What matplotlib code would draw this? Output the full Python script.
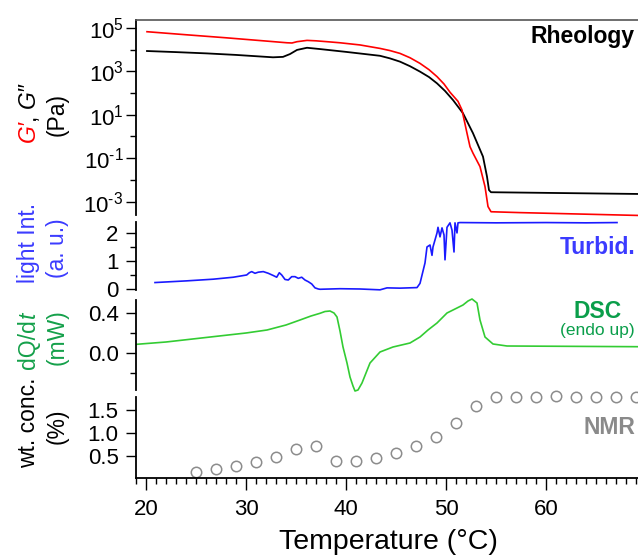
import matplotlib
matplotlib.use("Agg")
import matplotlib.pyplot as plt
import numpy as np
from matplotlib.ticker import FixedLocator, FixedFormatter, NullLocator, MultipleLocator
from matplotlib.transforms import IdentityTransform

plt.rcParams['font.family'] = ['Liberation Sans', 'DejaVu Sans']
plt.rcParams['mathtext.fontset'] = 'custom'
plt.rcParams['mathtext.rm'] = 'Liberation Sans'
plt.rcParams['mathtext.it'] = 'Liberation Sans:italic'

# ---------------- data ----------------
# Rheology: log10 of G' and G'' (Pa) vs temperature
g1_T = [20.1, 24.0, 28.0, 32.0, 34.1, 34.6, 35.1, 36.1, 37.0, 38.1, 39.4, 41.4, 43.4, 44.4,
        45.4, 46.4, 47.4, 48.3, 49.1, 49.8, 50.4, 51.2, 51.6, 52.1, 52.4, 52.7, 53.4, 53.9,
        54.2, 54.5, 57.4, 69.2]
g1_log = [4.83, 4.69, 4.55, 4.40, 4.32, 4.31, 4.37, 4.43, 4.41, 4.37, 4.32, 4.22, 4.06, 3.96,
          3.83, 3.63, 3.37, 3.08, 2.76, 2.42, 2.04, 1.62, 1.22, 0.15, -0.47, -0.77, -1.39, -2.31,
          -3.23, -3.47, -3.51, -3.64]

g2_T = [20.1, 23.0, 26.1, 29.0, 32.7, 33.7, 34.4, 35.1, 36.1, 37.4, 40.0, 43.4, 44.4, 45.4,
        46.4, 47.4, 48.3, 49.1, 49.9, 50.7, 51.7, 52.7, 53.7, 54.1, 54.3, 54.5, 60.0, 69.2]
g2_log = [3.94, 3.89, 3.83, 3.76, 3.65, 3.67, 3.80, 3.99, 4.09, 4.03, 3.90, 3.72, 3.60, 3.45,
          3.24, 2.99, 2.74, 2.45, 2.10, 1.68, 1.07, 0.15, -0.93, -1.85, -2.47, -2.57, -2.60, -2.65]

# Turbidity: transmitted light intensity (a. u.)
tb_T = [20.9, 24.07, 26.73, 28.73, 30.07, 30.33, 30.57, 30.9, 31.23, 31.73, 32.23, 32.73,
        33.07, 33.33, 33.57, 33.9, 34.23, 34.57, 34.9, 35.23, 35.57, 35.9, 36.23, 36.57,
        36.9, 37.23, 37.4, 39.4, 41.4, 43.4, 44.1, 45.4, 47.1, 47.4, 47.9, 48.1, 48.4,
        48.6, 48.7, 49.1, 49.2, 49.4, 49.6, 49.8, 49.9, 50.1, 50.4, 50.6, 50.8, 50.9,
        51.1, 51.2, 51.4, 55.0, 60.0, 64.0, 67.1]
tb_val = [0.23, 0.29, 0.35, 0.42, 0.50, 0.58, 0.62, 0.56, 0.60, 0.62, 0.56, 0.48,
          0.42, 0.58, 0.50, 0.34, 0.32, 0.44, 0.44, 0.38, 0.42, 0.32, 0.26, 0.18,
          0.04, 0.0, -0.01, 0.01, 0.0, -0.03, 0.04, 0.03, 0.05, 0.2, 0.93, 1.5, 1.57,
          1.2, 1.5, 2.0, 2.2, 1.86, 2.18, 1.93, 1.04, 2.2, 2.36, 2.1, 1.32, 2.36,
          2.0, 2.36, 2.37, 2.36, 2.37, 2.36, 2.37]

# DSC heat flow dQ/dt (mW), endo up
dsc_T = [19.07, 22.0, 26.7, 30.0, 32.1, 34.0, 35.4, 36.5, 37.4, 37.9, 38.4, 38.8, 39.1,
         39.4, 39.7, 40.1, 40.4, 40.7, 40.9, 41.2, 41.6, 42.0, 42.4, 43.4, 44.7, 46.4,
         47.4, 48.2, 49.1, 50.1, 51.1, 51.7, 52.2, 52.6, 53.1, 53.4, 53.9, 54.7, 56.1, 69.2]
dsc_val = [0.087, 0.11, 0.163, 0.20, 0.23, 0.28, 0.33, 0.37, 0.397, 0.415, 0.42, 0.40, 0.36,
           0.22, 0.06, -0.10, -0.24, -0.33, -0.38, -0.37, -0.30, -0.20, -0.10, 0.01, 0.06, 0.10,
           0.16, 0.23, 0.30, 0.40, 0.45, 0.48, 0.52, 0.54, 0.50, 0.33, 0.16, 0.09, 0.07, 0.063]

# NMR: dissolved polymer concentration (wt. %)
nmr_T = [25, 27, 29, 31, 33, 35, 37, 39, 41, 43, 45, 47, 49, 51, 53, 55, 57, 59, 61, 63, 65, 67, 69]
nmr_val = [0.16, 0.22, 0.28, 0.37, 0.48, 0.65, 0.72, 0.39, 0.39, 0.45, 0.56, 0.72, 0.92,
           1.22, 1.59, 1.78, 1.78, 1.78, 1.80, 1.78, 1.78, 1.78, 1.79]

# ---------------- figure ----------------
W, H = 638, 557
fig = plt.figure(figsize=(W / 100, H / 100), dpi=100)

X0 = 136
XMIN, XMAX = 19.0, 69.2


def rect(top, bottom):
    return [X0 / W, 1 - bottom / H, (W - X0) / W, (bottom - top) / H]


TICK = 16
ax1 = fig.add_axes(rect(20, 215))
ax2 = fig.add_axes(rect(222, 290))
ax3 = fig.add_axes(rect(300, 390))
ax4 = fig.add_axes(rect(397, 478))

for ax in (ax1, ax2, ax3, ax4):
    ax.set_xlim(XMIN, XMAX)
    ax.patch.set_visible(False)
    for s in ('right', 'top', 'bottom'):
        ax.spines[s].set_visible(False)
    ax.spines['left'].set_linewidth(1.3)
    ax.tick_params(axis='y', which='major', direction='out', length=7.5, width=1.0,
                   labelsize=TICK, pad=5)
    ax.tick_params(axis='y', which='minor', direction='out', length=4, width=1.0)
    ax.tick_params(axis='x', which='both', bottom=False, labelbottom=False)

# Rheology panel
ax1.spines['top'].set_visible(True)
ax1.spines['top'].set_color('#555555')
ax1.spines['top'].set_linewidth(1.2)
ax1.set_yscale('log')
ax1.set_ylim(10 ** -3.62, 10 ** 5.37)
ax1.plot(g2_T, 10 ** np.array(g2_log), color='black', lw=1.3, clip_on=False)
ax1.plot(g1_T, 10 ** np.array(g1_log), color='#ff0000', lw=1.2, clip_on=False)
maj_exp = [5, 3, 1, -1, -3]
ax1.yaxis.set_major_locator(FixedLocator([10.0 ** e for e in maj_exp]))
ax1.yaxis.set_major_formatter(FixedFormatter([r'$\mathregular{10^{%d}}$' % e if e >= 0
                                              else r'$\mathregular{10^{\text{-}%d}}$' % -e
                                              for e in maj_exp]))
ax1.yaxis.set_minor_locator(FixedLocator([1e4, 1e2, 1e0, 1e-2]))
ax1.yaxis.set_minor_formatter(FixedFormatter([]))
ax1.tick_params(axis='y', which='major', pad=1.5)

# Turbidity panel
ax2.set_ylim(-0.036, 2.39)
ax2.plot(tb_T, tb_val, color='#1a1aff', lw=1.2, clip_on=False)
ax2.yaxis.set_major_locator(FixedLocator([0, 1, 2]))
ax2.yaxis.set_major_formatter(FixedFormatter(['0', '1', '2']))
ax2.yaxis.set_minor_locator(FixedLocator([0.5, 1.5]))

# DSC panel
ax3.set_ylim(-0.37, 0.53)
ax3.plot(dsc_T, dsc_val, color='#33cc33', lw=1.2, clip_on=False)
ax3.yaxis.set_major_locator(FixedLocator([0.0, 0.4]))
ax3.yaxis.set_major_formatter(FixedFormatter(['0.0', '0.4']))
ax3.yaxis.set_minor_locator(FixedLocator([-0.2, 0.2]))

# NMR panel
ax4.set_ylim(0.022, 1.78)
ax4.plot(nmr_T, nmr_val, linestyle='none', marker='o', markersize=7.5, markerfacecolor='none',
         markeredgecolor='#8c8c8c', markeredgewidth=1.1, clip_on=False)
ax4.yaxis.set_major_locator(FixedLocator([0.5, 1.0, 1.5]))
ax4.yaxis.set_major_formatter(FixedFormatter(['0.5', '1.0', '1.5']))
ax4.yaxis.set_minor_locator(NullLocator())
ax4.spines['bottom'].set_visible(True)
ax4.spines['bottom'].set_linewidth(1.3)
ax4.xaxis.set_major_locator(MultipleLocator(10))
ax4.xaxis.set_minor_locator(MultipleLocator(1))
ax4.tick_params(axis='x', which='major', bottom=True, labelbottom=True, direction='out',
                length=8.5, width=1.0, labelsize=TICK, pad=6.5)
ax4.tick_params(axis='x', which='minor', bottom=True, direction='out', length=4.5, width=1.0)

# x label
fig.text(388 / W, 1 - 542 / H, 'Temperature (°C)', ha='center', va='center', fontsize=20.5)

# panel titles
fig.text(635 / W, 1 - 36 / H, 'Rheology', ha='right', va='center', fontsize=16.5,
         fontweight='bold', color='black')
fig.text(635 / W, 1 - 248 / H, 'Turbid.', ha='right', va='center', fontsize=16.5,
         fontweight='bold', color='#3b3bff')
fig.text(598 / W, 1 - 311 / H, 'DSC', ha='center', va='center', fontsize=16.5,
         fontweight='bold', color='#0a9e4a')
fig.text(597 / W, 1 - 330 / H, '(endo up)', ha='center', va='center', fontsize=12.5,
         color='#0a9e4a')
fig.text(635 / W, 1 - 428 / H, 'NMR', ha='right', va='center', fontsize=16.5,
         fontweight='bold', color='#8a8a8a')

# rotated, multi-coloured axis labels
renderer = fig.canvas.get_renderer()
YL = 16.5


def stacked_label(x_base, y_center, parts):
    """parts: list of (text, color, style) or a number (gap in px)."""
    items = []
    total = 0.0
    for p in parts:
        if isinstance(p, (int, float)):
            items.append(p)
            total += p
            continue
        s, c, st = p
        t = fig.text(0, 0, s, rotation=90, rotation_mode='anchor', ha='left',
                     va='baseline', color=c, fontstyle=st, fontsize=YL,
                     transform=IdentityTransform())
        h = t.get_window_extent(renderer).height
        items.append((t, h))
        total += h
    y = (H - y_center) - total / 2
    for it in items:
        if isinstance(it, (int, float)):
            y += it
            continue
        t, h = it
        t.set_position((x_base, y))
        y += h


BLUE_T = '#3b3bff'
GREEN_T = '#14a04a'
stacked_label(35, 112, [('G′', '#ff0000', 'italic'), (',', 'black', 'normal'), 6,
                        ('G″', 'black', 'italic')])
stacked_label(64, 115, [('(Pa)', 'black', 'normal')])
stacked_label(35, 243, [('light Int.', BLUE_T, 'normal')])
stacked_label(64, 248, [('(a. u.)', BLUE_T, 'normal')])
stacked_label(35, 340, [('dQ/d', GREEN_T, 'normal'), 1, ('t', GREEN_T, 'italic')])
stacked_label(64, 337, [('(mW)', GREEN_T, 'normal')])
stacked_label(35, 423, [('wt. conc.', 'black', 'normal')])
stacked_label(64, 426, [('(%)', 'black', 'normal')])

fig.savefig('out.png', dpi=100)
